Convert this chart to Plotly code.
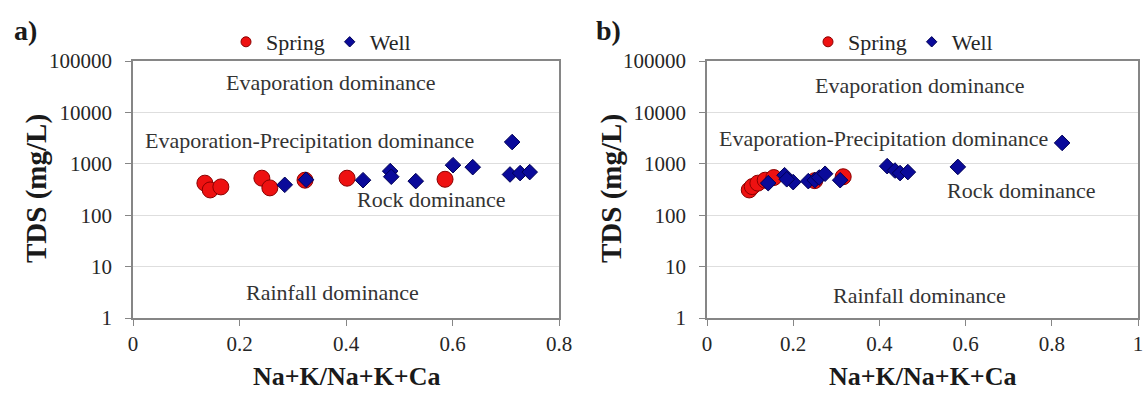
import math
import plotly.graph_objects as go

# Gibbs diagram: TDS versus Na+K/(Na+K+Ca) for springs and wells, two sampling sets
spring_a_x = [0.135, 0.145, 0.165, 0.242, 0.257, 0.323, 0.402, 0.586]
spring_a_y = [420, 310, 355, 525, 340, 480, 525, 500]
well_a_x = [0.285, 0.325, 0.432, 0.483, 0.485, 0.531, 0.601, 0.638, 0.712, 0.708, 0.727, 0.745]
well_a_y = [390, 490, 480, 720, 560, 460, 940, 860, 2650, 620, 660, 690]

spring_b_x = [0.098, 0.105, 0.118, 0.135, 0.155, 0.25, 0.316]
spring_b_y = [310, 360, 420, 480, 540, 470, 560]
well_b_x = [0.142, 0.18, 0.2, 0.185, 0.235, 0.25, 0.26, 0.274, 0.309,
            0.418, 0.436, 0.448, 0.466, 0.582, 0.824]
well_b_y = [420, 600, 440, 500, 460, 480, 540, 640, 480,
            900, 740, 660, 690, 870, 2550]

y_tick_vals = [1, 10, 100, 1000, 10000, 100000]
y_tick_text = ["1", "10", "100", "1000", "10000", "100000"]
x_ticks_a = [0, 0.2, 0.4, 0.6, 0.8]
x_ticks_b = [0, 0.2, 0.4, 0.6, 0.8, 1]
x_tick_text_a = ["0", "0.2", "0.4", "0.6", "0.8"]
x_tick_text_b = ["0", "0.2", "0.4", "0.6", "0.8", "1"]

# Zone labels: (text, x, TDS)
zones_a = [
    ("Evaporation dominance", 0.372, 10 ** 4.59),
    ("Evaporation-Precipitation dominance", 0.331, 10 ** 3.46),
    ("Rock dominance", 0.56, 10 ** 2.30),
    ("Rainfall dominance", 0.374, 10 ** 0.49),
]
zones_b = [
    ("Evaporation dominance", 0.494, 10 ** 4.53),
    ("Evaporation-Precipitation dominance", 0.409, 10 ** 3.50),
    ("Rock dominance", 0.729, 10 ** 2.49),
    ("Rainfall dominance", 0.494, 10 ** 0.43),
]

FONT = "Liberation Serif, Times New Roman, serif"
SPRING_FILL, SPRING_EDGE = "#ee1111", "#8a0000"
WELL_FILL, WELL_EDGE = "#0a0a9a", "#000055"

W, H = 1144, 396
def px_x(p):
    return p / W
def px_y(p):
    return 1 - p / H

fig = go.Figure()

def add_panel(sx, sy, wx, wy, xa, ya, legend):
    fig.add_trace(go.Scatter(
        x=sx, y=sy, mode="markers", xaxis=xa, yaxis=ya, showlegend=False,
        marker=dict(symbol="circle", size=16, color=SPRING_FILL,
                    line=dict(color=SPRING_EDGE, width=1))))
    fig.add_trace(go.Scatter(
        x=wx, y=wy, mode="markers", xaxis=xa, yaxis=ya, showlegend=False,
        marker=dict(symbol="diamond", size=12, color=WELL_FILL,
                    line=dict(color=WELL_EDGE, width=1))))
    # legend entries with smaller symbols
    fig.add_trace(go.Scatter(
        x=[None], y=[None], mode="markers", name="Spring", xaxis=xa, yaxis=ya,
        legend=legend,
        marker=dict(symbol="circle", size=10, color=SPRING_FILL,
                    line=dict(color=SPRING_EDGE, width=1))))
    fig.add_trace(go.Scatter(
        x=[None], y=[None], mode="markers", name="Well", xaxis=xa, yaxis=ya,
        legend=legend,
        marker=dict(symbol="diamond", size=8, color=WELL_FILL,
                    line=dict(color=WELL_EDGE, width=1))))

add_panel(spring_a_x, spring_a_y, well_a_x, well_a_y, "x", "y", "legend")
add_panel(spring_b_x, spring_b_y, well_b_x, well_b_y, "x2", "y2", "legend2")

axis_common = dict(
    showline=True, mirror=True, linecolor="#868686", linewidth=1.5,
    ticks="outside", ticklen=6, tickcolor="#868686",
    tickfont=dict(family=FONT, size=21, color="#262626"),
    zeroline=False, automargin=False,
)
y_dom = [px_y(318), px_y(61)]

legend_common = dict(orientation="h", xanchor="left", yanchor="middle",
                     bgcolor="rgba(0,0,0,0)",
                     font=dict(family=FONT, size=22, color="#262626"),
                     itemwidth=30, tracegroupgap=0)

fig.update_layout(
    width=W, height=H,
    margin=dict(l=0, r=0, t=0, b=0, autoexpand=False),
    paper_bgcolor="white", plot_bgcolor="white",
    font=dict(family=FONT),
    xaxis=dict(domain=[px_x(133), px_x(559)], range=[0, 0.8],
               tickvals=x_ticks_a, ticktext=x_tick_text_a, showgrid=False,
               anchor="y", **axis_common),
    yaxis=dict(domain=y_dom, type="log", range=[0, 5],
               tickvals=y_tick_vals, ticktext=y_tick_text,
               showgrid=True, gridcolor="#dedede", gridwidth=1,
               ticklabelstandoff=9, anchor="x", **axis_common),
    xaxis2=dict(domain=[px_x(707), px_x(1138)], range=[0, 1],
                tickvals=x_ticks_b, ticktext=x_tick_text_b, showgrid=False,
                anchor="y2", **axis_common),
    yaxis2=dict(domain=y_dom, type="log", range=[0, 5],
                tickvals=y_tick_vals, ticktext=y_tick_text,
                showgrid=True, gridcolor="#dedede", gridwidth=1,
                ticklabelstandoff=9, anchor="x2", **axis_common),
    legend=dict(x=px_x(226), y=px_y(42), **legend_common),
    legend2=dict(x=px_x(808), y=px_y(42), **legend_common),
)

annotations = []
for (txt, x, y) in zones_a:
    annotations.append(dict(text=txt, x=x, y=math.log10(y),
                            xref="x", yref="y", showarrow=False,
                            font=dict(family=FONT, size=22, color="#333333")))
for (txt, x, y) in zones_b:
    annotations.append(dict(text=txt, x=x, y=math.log10(y),
                            xref="x2", yref="y2", showarrow=False,
                            font=dict(family=FONT, size=22, color="#333333")))

for cx in (346, 922):
    annotations.append(dict(text="<b>Na+K/Na+K+Ca</b>", x=px_x(cx), y=px_y(376),
                            xref="paper", yref="paper", showarrow=False,
                            xanchor="center", yanchor="middle",
                            font=dict(family=FONT, size=26, color="#1a1a1a")))
for cx in (36, 611):
    annotations.append(dict(text="<b>TDS (mg/L)</b>", x=px_x(cx), y=px_y(189),
                            xref="paper", yref="paper", showarrow=False,
                            textangle=-90, xanchor="center", yanchor="middle",
                            font=dict(family=FONT, size=29, color="#1a1a1a")))
for txt, cx in (("a)", 25), ("b)", 609)):
    annotations.append(dict(text="<b>" + txt + "</b>", x=px_x(cx), y=px_y(30),
                            xref="paper", yref="paper", showarrow=False,
                            xanchor="center", yanchor="middle",
                            font=dict(family=FONT, size=28, color="#1a1a1a")))

fig.update_layout(annotations=annotations)

fig.write_html("out.html")
